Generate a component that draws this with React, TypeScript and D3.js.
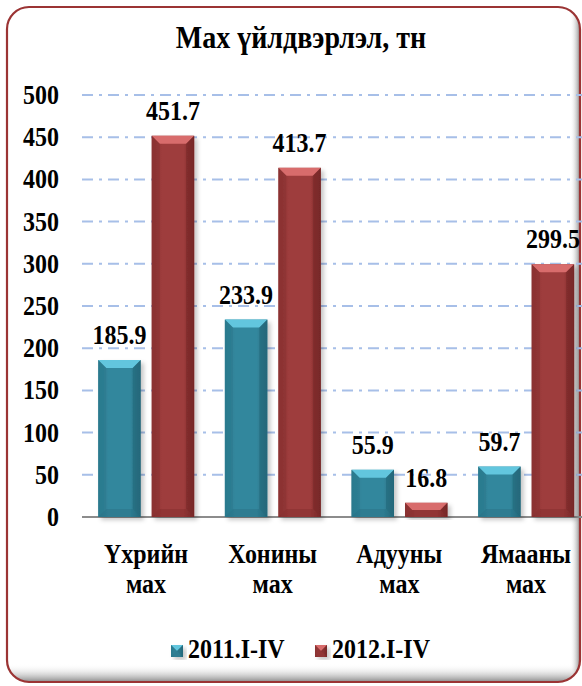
import React from "react";
import * as d3 from "d3";

const title = "Мах үйлдвэрлэл, тн";
const categories = ["Үхрийн мах", "Хонины мах", "Адууны мах", "Ямааны мах"];
const seriesNames = ["2011.I-IV", "2012.I-IV"];
const values2011 = [185.9, 233.9, 55.9, 59.7];
const values2012 = [451.7, 413.7, 16.8, 299.5];

const W = 582;
const H = 686;
const FONT = "'Liberation Serif', 'Times New Roman', serif";

const palette = [
  { face: "#33879d", light: "#62c6de", dark: "#24687a", edge: "#2b7a8e" },
  { face: "#9e3c3c", light: "#d86c6c", dark: "#772828", edge: "#8a3232" },
];

// bold text, a bit stretched vertically like the original
const T: React.FC<{ x: number; y: number; size: number; anchor?: string; children: React.ReactNode }> = ({
  x,
  y,
  size,
  anchor = "middle",
  children,
}) => (
  <text
    transform={`translate(${x},${y}) scale(1,1.1)`}
    textAnchor={anchor}
    fontSize={size}
    fontWeight="bold"
    fill="#000"
  >
    {children}
  </text>
);

const Bevel: React.FC<{ x: number; y: number; w: number; h: number; i: number }> = ({ x, y, w, h, i }) => {
  const c = palette[i];
  const b = Math.min(8, h / 2, w / 2);
  const pts = (p: number[][]) => p.map((q) => q.join(",")).join(" ");
  return (
    <g filter="url(#barShadow)">
      <rect x={x} y={y} width={w} height={h} fill={`url(#face${i})`} />
      <polygon points={pts([[x, y], [x + w, y], [x + w - b, y + b], [x + b, y + b]])} fill={c.light} />
      <polygon points={pts([[x, y], [x + b, y + b], [x + b, y + h - b], [x, y + h]])} fill={c.edge} opacity={0.6} />
      <polygon points={pts([[x + w, y], [x + w - b, y + b], [x + w - b, y + h - b], [x + w, y + h]])} fill={c.dark} opacity={0.6} />
      <polygon points={pts([[x, y + h], [x + b, y + h - b], [x + w - b, y + h - b], [x + w, y + h]])} fill={c.dark} opacity={0.35} />
    </g>
  );
};

export default function App() {
  const y = d3.scaleLinear().domain([0, 500]).range([517, 95]);
  const x0 = d3.scaleBand<string>().domain(categories).range([82.7, 589.3]).paddingInner(0).paddingOuter(0);
  const x1 = d3
    .scaleBand<string>()
    .domain(seriesNames)
    .range([15.5, 111.5])
    .paddingInner(0.2056)
    .paddingOuter(0);
  const data = [values2011, values2012];
  const ticks = y.ticks(10);

  return (
    <svg width={W} height={H} style={{ position: "absolute", left: 0, top: 0, display: "block" }} fontFamily={FONT}>
      <defs>
        {palette.map((c, i) => (
          <linearGradient key={i} id={`face${i}`} x1="0" x2="1" y1="0" y2="0">
            <stop offset="0" stopColor={c.edge} />
            <stop offset="0.25" stopColor={c.face} />
            <stop offset="0.75" stopColor={c.face} />
            <stop offset="1" stopColor={c.dark} />
          </linearGradient>
        ))}
        <filter id="barShadow" x="-20%" y="-10%" width="150%" height="130%">
          <feDropShadow dx="3" dy="3" stdDeviation="2" floodColor="#000" floodOpacity="0.22" />
        </filter>
        <clipPath id="boxClip">
          <rect x={7} y={7} width={573} height={675} rx={22} />
        </clipPath>
        <linearGradient id="shadowB" x1="0" x2="0" y1="0" y2="1">
          <stop offset="0" stopColor="#fff" stopOpacity="0" />
          <stop offset="1" stopColor="#8a8a8a" />
        </linearGradient>
        <linearGradient id="shadowR" x1="0" x2="1" y1="0" y2="0">
          <stop offset="0" stopColor="#fff" stopOpacity="0" />
          <stop offset="1" stopColor="#8a8a8a" />
        </linearGradient>
      </defs>

      <rect x={0} y={0} width={W} height={H} fill="#fff" />
      <g clipPath="url(#boxClip)">
        <rect x={7} y={664} width={573} height={18} fill="url(#shadowB)" />
        <rect x={570} y={7} width={10} height={675} fill="url(#shadowR)" />
      </g>
      <rect x={7} y={7} width={573} height={675} rx={22} fill="none" stroke="#9b3434" strokeWidth={2.2} />

      <T x={301} y={48} size={28}>
        {title}
      </T>

      {ticks.map((t) => (
        <g key={t}>
          {t > 0 && (
            <line
              x1={82}
              x2={W}
              y1={y(t)}
              y2={y(t)}
              stroke="#a7bfe8"
              strokeWidth={2}
              strokeDasharray="11 6 3 6"
            />
          )}
          <T x={59} y={y(t) + 9} size={24} anchor="end">
            {t}
          </T>
        </g>
      ))}
      <line x1={82} x2={W} y1={y(0)} y2={y(0)} stroke="#8c8c8c" strokeWidth={2} />

      {categories.map((cat, ci) => (
        <g key={cat} transform={`translate(${x0(cat)},0)`}>
          {seriesNames.map((s, si) => {
            const v = data[si][ci];
            const bx = x1(s)!;
            const bw = x1.bandwidth();
            return (
              <g key={s}>
                <Bevel x={bx} y={y(v)} w={bw} h={y(0) - y(v)} i={si} />
                <T x={bx + bw / 2} y={y(v) - 16} size={24}>
                  {v.toFixed(1)}
                </T>
              </g>
            );
          })}
          {cat.split(" ").map((line, li) => (
            <T key={li} x={x0.bandwidth() / 2} y={563 + li * 30} size={24}>
              {line}
            </T>
          ))}
        </g>
      ))}

      {seriesNames.map((s, i) => {
        const lx = i === 0 ? 171 : 315;
        return (
          <g key={s}>
            <Bevel x={lx} y={645} w={12} h={12} i={i} />
            <T x={lx + 17} y={658} size={24} anchor="start">
              {s}
            </T>
          </g>
        );
      })}
    </svg>
  );
}
